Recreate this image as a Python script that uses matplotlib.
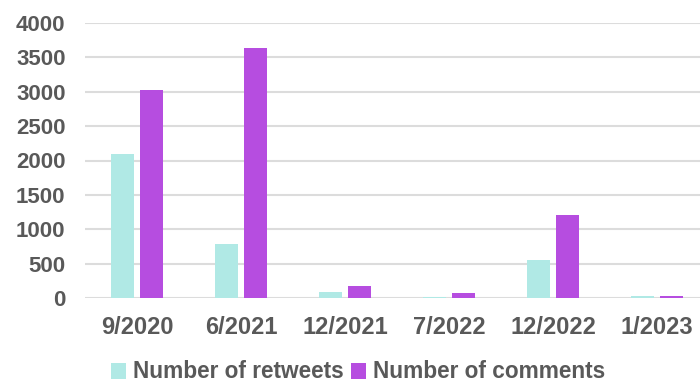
import matplotlib
matplotlib.use("Agg")
import matplotlib.pyplot as plt
import numpy as np

categories = ["9/2020", "6/2021", "12/2021", "7/2022", "12/2022", "1/2023"]
retweets = [2090, 780, 90, 10, 560, 30]
comments = [3020, 3640, 170, 80, 1210, 35]
yticks = [0, 500, 1000, 1500, 2000, 2500, 3000, 3500, 4000]

plt.rcParams['font.family'] = ['Liberation Sans', 'DejaVu Sans']
TXT = "#595959"
C_RT = "#b0e9e5"
C_CM = "#b64de0"

fig = plt.figure(figsize=(7.0, 3.82), dpi=100)
ax = fig.add_axes([85/700, 84/382, 624/700, 275/382])
x = np.arange(len(categories))
w = 0.22
off = 0.142
ax.bar(x - off, retweets, width=w, color=C_RT, label="Number of retweets", zorder=3)
ax.bar(x + off, comments, width=w, color=C_CM, label="Number of comments", zorder=3)
ax.set_xlim(-0.5, len(categories) - 0.5)
ax.set_ylim(0, 4000)
ax.set_yticks(yticks)
ax.set_yticklabels([str(v) for v in yticks])
ax.set_xticks(x)
ax.set_xticklabels(categories)
for s in ax.spines.values():
    s.set_visible(False)
ax.yaxis.grid(True, color="#dcdcdc", linewidth=1.5, zorder=0)
ax.set_axisbelow(True)
ax.tick_params(axis='both', length=0, labelcolor=TXT)
ax.tick_params(axis='y', pad=14, labelsize=16)
ax.tick_params(axis='x', pad=13, labelsize=17)
for lab in ax.get_xticklabels() + ax.get_yticklabels():
    lab.set_fontweight('bold')

leg = fig.legend(loc='center', bbox_to_anchor=(358/700, 1 - 372/382), ncol=2,
                 frameon=False, handlelength=0.7, handleheight=0.7,
                 handletextpad=0.3, columnspacing=0.3,
                 prop={'size': 16.3, 'weight': 'bold'})
for t in leg.get_texts():
    t.set_color(TXT)

fig.savefig("out.png", dpi=100)
